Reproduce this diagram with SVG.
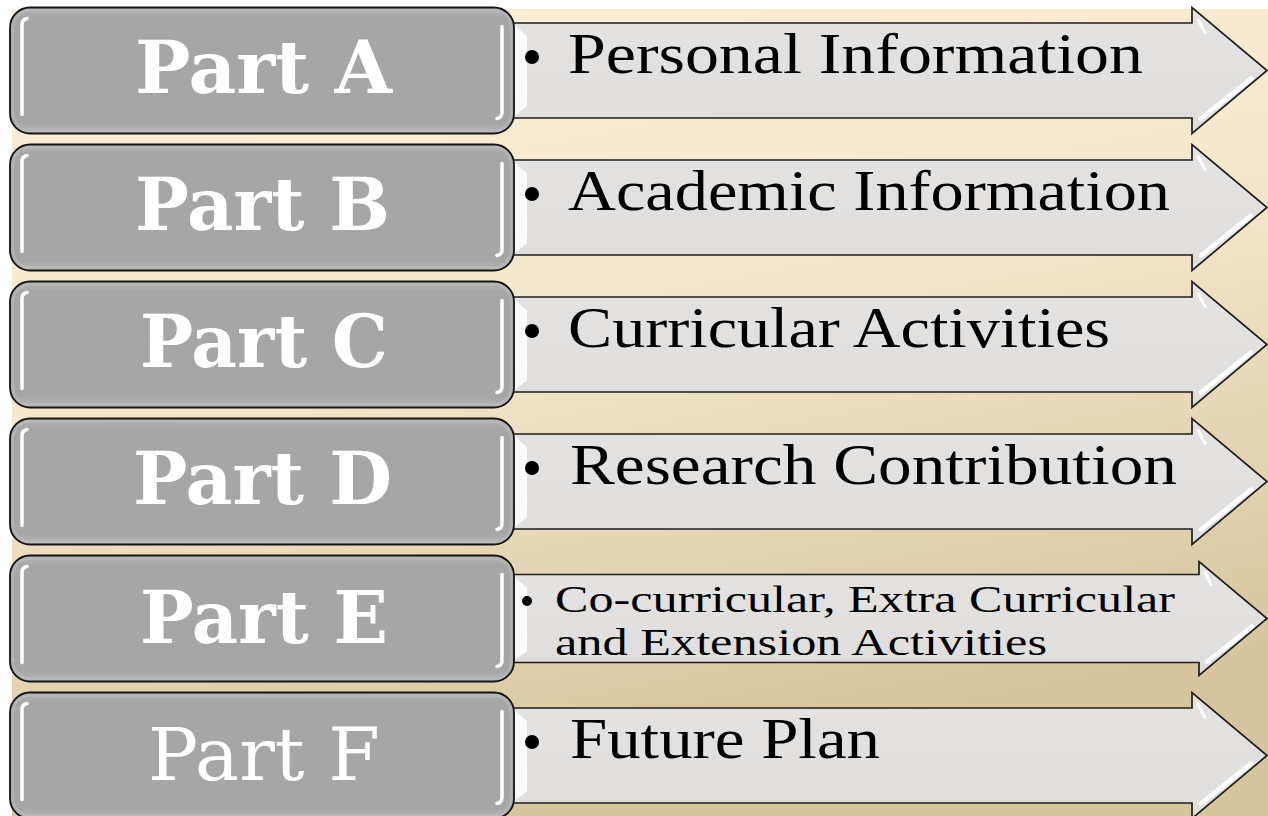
<svg xmlns="http://www.w3.org/2000/svg" width="1268" height="816" viewBox="0 0 1268 816">
<defs>
<linearGradient id="bg" x1="0" y1="0" x2="0.3" y2="1">
<stop offset="0" stop-color="#fdeed6"/>
<stop offset="0.45" stop-color="#f6e8cd"/>
<stop offset="1" stop-color="#d6c59f"/>
</linearGradient>
<linearGradient id="boxfill" x1="0" y1="0" x2="0" y2="1">
<stop offset="0" stop-color="#b4b4b4"/>
<stop offset="0.08" stop-color="#a6a6a6"/>
<stop offset="0.92" stop-color="#a6a6a6"/>
<stop offset="1" stop-color="#b8b8b8"/>
</linearGradient>
<linearGradient id="arrowfill" x1="0" y1="0" x2="0" y2="1">
<stop offset="0" stop-color="#e4e3e1"/>
<stop offset="1" stop-color="#dfdedc"/>
</linearGradient>
<g id="arrowMain">
<path class="arrow" d="M505,-47.5 H1192 V-63 L1267,0 L1192,63 V47.5 H505 Z"/>
<path class="bevel" d="M515,-45 L527,-34 V36 L515,45 Z"/>
<path class="hl" d="M1201,48 L1251,8"/>
<path class="hl2" d="M1198,-51 L1205,-38"/>
</g>
<g id="arrowSmall">
<path class="arrow" d="M505,-44 H1199 V-57 L1267,0 L1199,57 V44 H505 Z"/>
<path class="bevel" d="M515,-41 L527,-31 V33 L515,41 Z"/>
<path class="hl" d="M1207,43 L1252,8"/>
<path class="hl2" d="M1205,-46 L1211,-34"/>
</g>
<g id="box">
<rect class="box" x="10" y="-63" width="504" height="126" rx="20"/>
<rect class="boxin" x="13" y="-60" width="498" height="120" rx="17"/>
<path class="bhl" d="M22,44 V-46 Q22,-51 27,-52"/>
<path class="bhl" d="M502,-44 V42 Q502,47 497,48"/>
</g>
</defs>
<style>
.arrow{fill:url(#arrowfill);stroke:#1e1e1e;stroke-width:1.7;stroke-linejoin:miter}
.bevel{fill:#ffffff;opacity:0.85}
.hl{stroke:#ffffff;stroke-width:4.5;stroke-linecap:round;fill:none;opacity:0.95}
.hl2{stroke:#ffffff;stroke-width:3;stroke-linecap:round;fill:none;opacity:0.9}
.box{fill:url(#boxfill);stroke:#151515;stroke-width:1.8}
.boxin{fill:none;stroke:#bdbdbd;stroke-width:2.5;opacity:0.6}
.bhl{stroke:#ffffff;stroke-width:3.5;stroke-linecap:round;fill:none}
.part{font-family:"DejaVu Serif","Liberation Serif",serif;font-weight:bold;font-size:73px;fill:#ffffff;text-anchor:start}
.partr{font-family:"DejaVu Serif","Liberation Serif",serif;font-weight:normal;font-size:73px;fill:#ffffff}
.lbl{font-family:"Liberation Serif","DejaVu Serif",serif;font-size:57px;fill:#000000}
.lbls{font-family:"Liberation Serif","DejaVu Serif",serif;font-size:38px;fill:#000000}
.bul{fill:#000000}
</style>
<rect x="12" y="9" width="1256" height="807" fill="url(#bg)"/>

<g id="rowA" transform="translate(0,70.5)">
<use href="#arrowMain"/>
<use href="#box"/>
<text class="part" x="135" y="22.5" textLength="257" lengthAdjust="spacingAndGlyphs">Part A</text>
<circle class="bul" cx="532" cy="-13.5" r="7"/>
<text class="lbl" x="568" y="2.5" textLength="575" lengthAdjust="spacingAndGlyphs">Personal Information</text>
</g>

<g id="rowB" transform="translate(0,207.5)">
<use href="#arrowMain"/>
<use href="#box"/>
<text class="part" x="135" y="22.5" textLength="255" lengthAdjust="spacingAndGlyphs">Part B</text>
<circle class="bul" cx="532" cy="-13.5" r="7"/>
<text class="lbl" x="568" y="2.5" textLength="602" lengthAdjust="spacingAndGlyphs">Academic Information</text>
</g>

<g id="rowC" transform="translate(0,344.5)">
<use href="#arrowMain"/>
<use href="#box"/>
<text class="part" x="140" y="22.5" textLength="248" lengthAdjust="spacingAndGlyphs">Part C</text>
<circle class="bul" cx="532" cy="-13.5" r="7"/>
<text class="lbl" x="568" y="2.5" textLength="542" lengthAdjust="spacingAndGlyphs">Curricular Activities</text>
</g>

<g id="rowD" transform="translate(0,481.5)">
<use href="#arrowMain"/>
<use href="#box"/>
<text class="part" x="133" y="22.5" textLength="259" lengthAdjust="spacingAndGlyphs">Part D</text>
<circle class="bul" cx="532" cy="-13.5" r="7"/>
<text class="lbl" x="570" y="2.5" textLength="607" lengthAdjust="spacingAndGlyphs">Research Contribution</text>
</g>

<g id="rowE" transform="translate(0,618.5)">
<use href="#arrowSmall"/>
<use href="#box"/>
<text class="part" x="140" y="24.5" textLength="248" lengthAdjust="spacingAndGlyphs">Part E</text>
<circle class="bul" cx="527" cy="-17.5" r="5"/>
<text class="lbls" x="555" y="-6.5" textLength="620" lengthAdjust="spacingAndGlyphs">Co-curricular, Extra Curricular</text>
<text class="lbls" x="555" y="36.5" textLength="492" lengthAdjust="spacingAndGlyphs">and Extension Activities</text>
</g>

<g id="rowF" transform="translate(0,755.5)">
<use href="#arrowMain"/>
<use href="#box"/>
<text class="partr" x="148" y="24.5" textLength="232" lengthAdjust="spacingAndGlyphs">Part F</text>
<circle class="bul" cx="532" cy="-13.5" r="7"/>
<text class="lbl" x="570" y="2.5" textLength="310" lengthAdjust="spacingAndGlyphs">Future Plan</text>
</g>
</svg>
